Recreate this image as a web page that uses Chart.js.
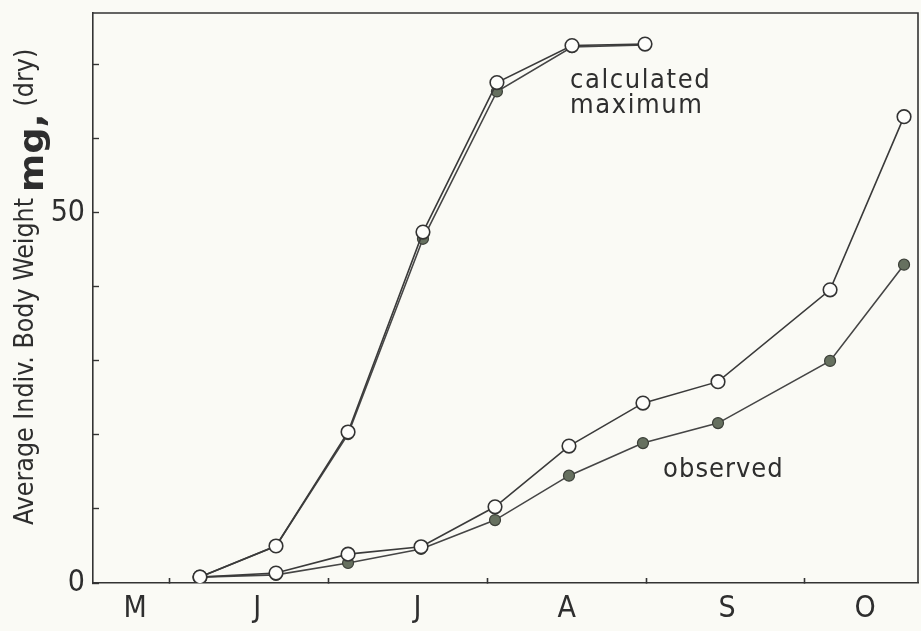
<!DOCTYPE html>
<html><head><meta charset="utf-8">
<script src="https://cdn.jsdelivr.net/npm/chart.js@4/dist/chart.umd.min.js"></script>
<style>html,body{margin:0;padding:0;background:#fafaf5;}</style>
</head><body>
<canvas id="c" width="921" height="631"></canvas>
<script>
// x values: months after 1 June (0 = 1 Jun, 1 = 1 Jul, ...); y values: mg dry weight
const maxSampleMonths = [0.189, 0.668, 1.122, 1.594, 2.06, 2.533, 2.993];
const calcMaxOpen     = [0.8, 5.0, 20.4, 47.4, 67.6, 72.6, 72.8];
const calcMaxFilled   = [0.8, 5.0, 20.1, 46.5, 66.4, 72.4, 72.7];
const sampleMonths    = [0.189, 0.668, 1.122, 1.582, 2.048, 2.514, 2.98, 3.453, 4.159, 4.625];
const upperOpen       = [0.8, 1.35, 3.9, 4.9, 10.3, 18.5, 24.3, 27.2, 39.6, 63.0];
const observed        = [0.8, 1.1, 2.7, 4.6, 8.5, 14.5, 18.9, 21.6, 30.0, 43.0];
const monthNames   = ['M', 'J', 'J', 'A', 'S', 'O'];
const monthLabelAt = [-0.22, 0.55, 1.56, 2.5, 3.51, 4.38];
const monthStarts  = [0, 1, 2, 3, 4];
const yTickValues  = [0, 10, 20, 30, 40, 50, 60, 70];
const yTickLabels  = {0: '0', 50: '50'};
const annotations  = [
  {text: 'calculated', x: 2.52, y: 66.9, spacing: 1.6},
  {text: 'maximum',    x: 2.52, y: 63.5, spacing: 1.6},
  {text: 'observed',   x: 3.107, y: 14.3, spacing: 1.0}
];

const FONT = "'Liberation Sans Narrow', 'DejaVu Sans Condensed', 'Liberation Sans', sans-serif";
const INK = '#2e2e2e';

const pts = (xs, ys) => xs.map((x, i) => ({x, y: ys[i]}));

const openStyle = {
  borderColor: '#3a3a3a', borderWidth: 1.6, pointRadius: 6.8, pointBorderWidth: 1.6,
  pointBackgroundColor: '#fdfdfb', pointBorderColor: '#333', tension: 0, order: 0
};
const filledStyle = {
  borderColor: '#454545', borderWidth: 1.6, pointRadius: 5.5, pointBorderWidth: 1.2,
  pointBackgroundColor: '#66705f', pointBorderColor: '#3b3f38', tension: 0, order: 1
};

const bgPlugin = {
  id: 'bg',
  beforeDraw(chart) {
    const c = chart.ctx; c.save(); c.fillStyle = '#fafaf5';
    c.fillRect(0, 0, chart.width, chart.height); c.restore();
  },
  afterDraw(chart) {
    const c = chart.ctx, a = chart.chartArea;
    c.save();
    // frame (top and right)
    c.strokeStyle = '#333'; c.lineWidth = 1.6;
    c.beginPath(); c.moveTo(a.left, a.top); c.lineTo(a.right, a.top); c.lineTo(a.right, a.bottom); c.stroke();
    // annotations
    const xs = chart.scales.x, ys = chart.scales.y;
    c.fillStyle = INK; c.font = '27px ' + FONT; c.textBaseline = 'alphabetic'; c.textAlign = 'left';
    annotations.forEach(an => {
      c.letterSpacing = an.spacing + 'px';
      c.fillText(an.text, xs.getPixelForValue(an.x), ys.getPixelForValue(an.y));
    });
    c.letterSpacing = '0px';
    // y-axis title, rotated, with larger "mg,"
    c.translate(33, 525); c.rotate(-Math.PI / 2);
    c.font = '26.5px ' + FONT;
    const p1 = 'Average Indiv. Body Weight';
    c.fillText(p1, 0, 0);
    let w = c.measureText(p1).width + 6;
    c.font = 'bold 34px ' + FONT;
    const mw = c.measureText('mg,').width;
    c.save(); c.translate(w, 10); c.scale(1.2, 1); c.fillText('mg,', 0, 0); c.restore();
    w += mw * 1.2 + 7;
    c.font = '26.5px ' + FONT;
    c.fillText('(dry)', w, 0);
    c.restore();
  }
};

new Chart(document.getElementById('c'), {
  type: 'line',
  data: {
    datasets: [
      {label: 'calculated maximum', data: pts(maxSampleMonths, calcMaxOpen), ...openStyle},
      {label: 'calculated maximum (filled)', data: pts(maxSampleMonths, calcMaxFilled), ...filledStyle},
      {label: 'upper', data: pts(sampleMonths, upperOpen), ...openStyle},
      {label: 'observed', data: pts(sampleMonths, observed), ...filledStyle}
    ]
  },
  options: {
    responsive: false, animation: false, devicePixelRatio: 1,
    layout: {autoPadding: false, padding: {top: 13, right: 3, left: 0, bottom: 0}},
    plugins: {legend: {display: false}, tooltip: {enabled: false}},
    scales: {
      x: {
        type: 'linear', min: -0.485, max: 4.713,
        afterBuildTicks: s => { s.ticks = [...monthStarts, ...monthLabelAt].sort((a, b) => a - b).map(v => ({value: v})); },
        afterFit: s => { s.height = 48; s.paddingLeft = 0; s.paddingRight = 0; },
        border: {display: true, color: '#333', width: 1.6},
        grid: {drawOnChartArea: false, drawTicks: true, tickLength: -5, tickWidth: 1.6,
               tickColor: ctx => (ctx.tick && monthStarts.includes(ctx.tick.value)) ? '#333' : 'rgba(0,0,0,0)'},
        ticks: {autoSkip: false, maxRotation: 0, padding: 13, color: INK, font: {family: FONT, size: 30},
                callback: v => { const i = monthLabelAt.indexOf(v); return i >= 0 ? monthNames[i] : ''; }}
      },
      y: {
        type: 'linear', min: 0, max: 77,
        afterBuildTicks: s => { s.ticks = yTickValues.map(v => ({value: v})); },
        afterFit: s => { s.width = 93; s.paddingTop = 0; s.paddingBottom = 0; },
        border: {display: true, color: '#333', width: 1.6},
        grid: {drawOnChartArea: false, drawTicks: true, tickLength: -6, tickWidth: 1.4, tickColor: '#333'},
        ticks: {padding: 14, color: INK, font: {family: FONT, size: 30},
                callback: v => yTickLabels[v] ?? ''}
      }
    }
  },
  plugins: [bgPlugin]
});
</script>
</body></html>
